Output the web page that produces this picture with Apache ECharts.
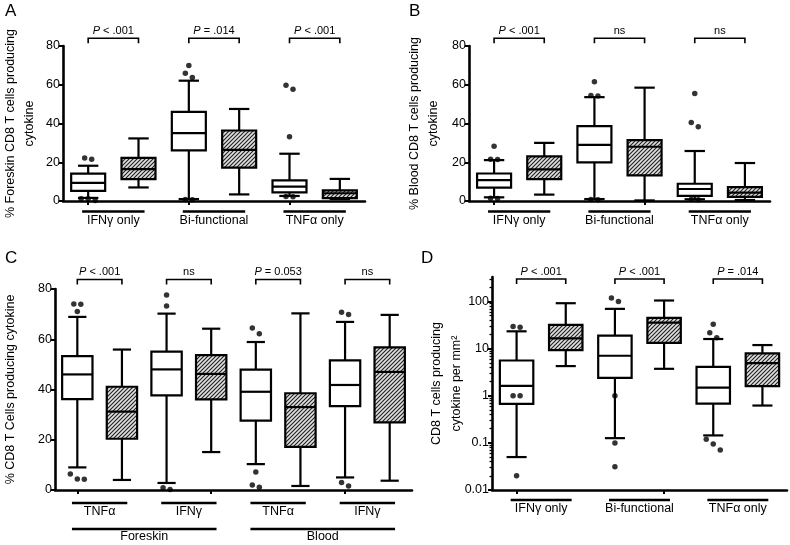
<!DOCTYPE html>
<html><head><meta charset="utf-8">
<script src="https://cdn.jsdelivr.net/npm/echarts@6/dist/echarts.min.js"></script>
<style>html,body{margin:0;padding:0;background:#fff}#c{width:790px;height:545px}</style>
</head><body><div id="c"></div>
<script>
// ================= DATA =================
const groupsABD = ['IFNγ only', 'Bi-functional', 'TNFα only'];
const subgroupsC = ['TNFα', 'IFNγ', 'TNFα', 'IFNγ'];
const tissuesC = ['Foreskin', 'Blood'];
const boxNamesABD = ['IFNγ only A', 'IFNγ only B', 'Bi-functional A', 'Bi-functional B', 'TNFα only A', 'TNFα only B'];
const boxNamesC = ['Foreskin TNFα A', 'Foreskin TNFα B', 'Foreskin IFNγ A', 'Foreskin IFNγ B', 'Blood TNFα A', 'Blood TNFα B', 'Blood IFNγ A', 'Blood IFNγ B'];

// box stats: [lower whisker, Q1, median, Q3, upper whisker]
const statsA = [[1.6, 5.2, 9.4, 14.1, 18.2], [7.0, 11.3, 16.5, 22.3, 32.3], [1.0, 26.1, 35.0, 46.0, 62.1], [3.4, 17.2, 26.4, 36.4, 47.5], [2.6, 4.5, 7.4, 10.6, 24.4], [1.0, 1.5, 4.0, 5.5, 11.4]];
const outliersA = [[22.2, 21.5, 1.2, 1.1, 0.2], [], [70.0, 65.9, 63.7, 0.8, 0.7], [], [59.7, 57.7, 33.1, 2.3, 2.2], []];

const statsB = [[1.9, 6.9, 10.8, 14.2, 21.1], [3.3, 11.3, 16.3, 23.0, 30.0], [1.0, 19.9, 29.0, 38.6, 53.6], [0.3, 13.2, 28.0, 31.4, 58.5], [0.9, 2.6, 6.2, 8.9, 25.8], [0.5, 2.1, 4.3, 7.2, 19.6]];
const outliersB = [[28.3, 21.6, 21.4, 1.4, 1.3], [], [61.5, 54.4, 54.2, 0.8, 0.7], [], [55.5, 40.5, 38.3, 0.8, 0.7], []];

const statsC = [[9.0, 36.2, 46.0, 53.3, 68.9], [4.0, 20.4, 31.2, 41.1, 55.9], [2.8, 37.7, 48.0, 55.1, 70.2], [15.1, 36.1, 46.2, 53.7, 64.2], [10.3, 27.6, 39.1, 47.9, 58.9], [1.6, 17.2, 33.0, 38.5, 70.3], [5.0, 33.4, 41.8, 51.6, 66.9], [3.7, 26.9, 47.0, 56.8, 69.7]];
const outliersC = [[74.0, 73.9, 71.0, 6.4, 4.4, 4.3], [], [77.6, 73.2, 0.9, 0.2], [], [64.5, 62.2, 7.2, 2.0, 1.1], [], [70.7, 69.9, 3.0, 1.6], []];

const statsD = [[0.05, 0.67, 1.62, 5.6, 23.3], [4.26, 9.3, 16.5, 31.8, 92], [0.126, 2.4, 7.06, 18.8, 69.8], [3.73, 13.2, 35.7, 44.9, 105], [0.144, 0.68, 1.49, 4.12, 16], [0.62, 1.6, 4.93, 7.9, 11.9]];
const outliersD = [[29.5, 28.5, 1.0, 1.0, 0.02], [], [118, 100, 1.0, 0.1, 0.031], [], [32.9, 21.8, 17.1, 0.12, 0.095, 0.071], []];

const pairsABD = [[0, 1], [2, 3], [4, 5]];
const pairsC = [[0, 1], [2, 3], [4, 5], [6, 7]];
const tissueSpansC = [[0, 3], [4, 7]];
const pTextA = ['{i|P} < .001', '{i|P} = .014', '{i|P} < .001'];
const pTextB = ['{i|P} < .001', 'ns', 'ns'];
const pTextC = ['{i|P} < .001', 'ns', '{i|P} = 0.053', 'ns'];
const pTextD = ['{i|P} < .001', '{i|P} < .001', '{i|P} = .014'];

const yTicksLin = [0, 20, 40, 60, 80];
const yTicksD = [0.01, 0.1, 1, 10, 100];
const yMinorD = [0.02,0.03,0.04,0.05,0.06,0.07,0.08,0.09,0.2,0.3,0.4,0.5,0.6,0.7,0.8,0.9,2,3,4,5,6,7,8,9,20,30,40,50,60,70,80,90,200,300];

const titleA = '% Foreskin CD8 T cells producing\ncytokine';
const titleB = '% Blood CD8 T cells producing\ncytokine';
const titleC = '% CD8 T Cells producing cytokine';
const titleD = 'CD8 T cells producing\ncytokine per mm²';

// ================= STYLE / HELPERS =================
const FONT = '"Liberation Sans", Arial, Helvetica, sans-serif';
const FS = 12.5;
const L10 = Math.log10;

const pc = document.createElement('canvas');
pc.width = 4; pc.height = 4;
const g = pc.getContext('2d');
g.fillStyle = '#e0e0e0'; g.fillRect(0, 0, 4, 4);
g.strokeStyle = '#222'; g.lineWidth = 1.15;
g.beginPath();
g.moveTo(-1, 5); g.lineTo(5, -1);
g.moveTo(-1, 1); g.lineTo(1, -1);
g.moveTo(3, 5); g.lineTo(5, 3);
g.stroke();
const hatch = { image: pc, repeat: 'repeat' };

function boxRender(params, api) {
  const i = api.value(0);
  const v = [1, 2, 3, 4, 5].map(k => api.value(k));
  const band = api.size([1, 0])[0];
  const bw = Math.min(band * 0.68, 34), cw = bw * 0.6;
  const cx = api.coord([i, v[2]])[0];
  const y = v.map(val => api.coord([i, val])[1]);
  const ls = { stroke: '#000', lineWidth: 2.2 };
  const hatched = i % 2 === 1;
  return { type: 'group', children: [
    { type: 'line', shape: { x1: cx, y1: y[0], x2: cx, y2: y[1] }, style: ls },
    { type: 'line', shape: { x1: cx, y1: y[3], x2: cx, y2: y[4] }, style: ls },
    { type: 'line', shape: { x1: cx - cw / 2, y1: y[0], x2: cx + cw / 2, y2: y[0] }, style: ls },
    { type: 'line', shape: { x1: cx - cw / 2, y1: y[4], x2: cx + cw / 2, y2: y[4] }, style: ls },
    { type: 'rect', shape: { x: cx - bw / 2, y: y[3], width: bw, height: y[1] - y[3] }, style: { fill: hatched ? hatch : '#fff', stroke: '#000', lineWidth: 2.2 } },
    { type: 'line', shape: { x1: cx - bw / 2, y1: y[2], x2: cx + bw / 2, y2: y[2] }, style: ls }
  ]};
}

function bracketRender(level, texts) {
  return function (params, api) {
    const a = api.value(0), b = api.value(1);
    const p1 = api.coord([a, level]), p2 = api.coord([b, level]);
    const y = p1[1];
    return { type: 'group', children: [
      { type: 'polyline', shape: { points: [[p1[0], y + 5], [p1[0], y], [p2[0], y], [p2[0], y + 5]] }, style: { stroke: '#000', lineWidth: 1.6, fill: null } },
      { type: 'text', style: { text: texts[params.dataIndex], x: (p1[0] + p2[0]) / 2, y: y - 7.5, align: 'center', verticalAlign: 'middle', fontSize: 11, fontFamily: FONT, fill: '#000',
        rich: { i: { fontStyle: 'italic', fontSize: 11, fontFamily: FONT, fill: '#000' } } } }
    ]};
  };
}

function spanRender(yMin, lineOff, textOff, texts) {
  return function (params, api) {
    const a = api.value(0), b = api.value(1);
    const band = api.size([1, 0])[0];
    const p1 = api.coord([a, yMin]), p2 = api.coord([b, yMin]);
    const y = p1[1] + lineOff;
    return { type: 'group', children: [
      { type: 'line', shape: { x1: p1[0] - band * 0.12, y1: y, x2: p2[0] + band * 0.12, y2: y }, style: { stroke: '#000', lineWidth: 2.6 } },
      { type: 'text', style: { text: texts[params.dataIndex], x: (p1[0] + p2[0]) / 2, y: p1[1] + textOff, align: 'center', verticalAlign: 'middle', fontSize: FS, fontFamily: FONT, fill: '#000' } }
    ]};
  };
}

// automatic side-by-side placement for outliers that would overlap
function outlierData(outs, range) {
  const res = [];
  const thr = range * 0.03;
  outs.forEach((list, i) => {
    const s = list.slice().sort((a, b) => b - a);
    let k = 0;
    while (k < s.length) {
      let j = k;
      while (j + 1 < s.length && s[j] - s[j + 1] < thr) j++;
      const n = j - k + 1;
      for (let m = k; m <= j; m++) {
        const dx = n > 1 ? ((m - k) - (n - 1) / 2) * 7 : 0;
        res.push({ value: [i, s[m]], symbolOffset: [dx, 0] });
      }
      k = j + 1;
    }
  });
  return res;
}

function boxSeries(stats, gi, tf) {
  return { type: 'custom', xAxisIndex: gi, yAxisIndex: gi, renderItem: boxRender, clip: false, z: 3,
    encode: { x: 0, y: [1, 2, 3, 4, 5] },
    data: stats.map((s, i) => [i].concat(s.map(tf))) };
}
function outlierSeries(outs, gi, tf, range) {
  return { type: 'scatter', xAxisIndex: gi, yAxisIndex: gi, symbol: 'circle', symbolSize: 5.5, z: 5, clip: false,
    itemStyle: { color: '#000' }, silent: true,
    data: outlierData(outs.map(l => l.map(tf)), range) };
}
function bracketSeries(pairs, texts, gi, level) {
  return { type: 'custom', xAxisIndex: gi, yAxisIndex: gi, clip: false, z: 4, renderItem: bracketRender(level, texts), data: pairs };
}
function spanSeries(spans, texts, gi, yMin, lineOff, textOff) {
  return { type: 'custom', xAxisIndex: gi, yAxisIndex: gi, clip: false, z: 4, renderItem: spanRender(yMin, lineOff, textOff, texts), data: spans };
}

const id = v => v;
const axLine = { show: true, lineStyle: { color: '#000', width: 2.6 } };
function xAx(gi, names) {
  return { type: 'category', gridIndex: gi, data: names, boundaryGap: true,
    axisLine: { show: true, onZero: false, lineStyle: { color: '#000', width: 2.6 } },
    axisTick: { show: true, alignWithLabel: true, length: 4, lineStyle: { color: '#000', width: 2 } },
    axisLabel: { show: false }, splitLine: { show: false } };
}
function yAx(gi, name, gap, extra) {
  return Object.assign({ type: 'value', gridIndex: gi, min: 0, max: 80, interval: 20,
    name: name, nameLocation: 'middle', nameRotate: 90, nameGap: gap, nameMoveOverlap: false,
    nameTextStyle: { fontSize: FS, fontFamily: FONT, color: '#000', lineHeight: 19, align: 'center' },
    axisLine: axLine,
    axisTick: { show: true, length: 4, lineStyle: { color: '#000', width: 2 } },
    axisLabel: { fontSize: FS, fontFamily: FONT, color: '#000', margin: 3 },
    splitLine: { show: false } }, extra || {});
}

const option = {
  animation: false,
  backgroundColor: '#fff',
  grid: [
    { left: 62, top: 46, width: 303, height: 155 },
    { left: 469, top: 46, width: 301, height: 155 },
    { left: 52, top: 289, width: 360, height: 201 },
    { left: 492, top: 277, width: 295, height: 213 }
  ],
  xAxis: [xAx(0, boxNamesABD), xAx(1, boxNamesABD), xAx(2, boxNamesC), xAx(3, boxNamesABD)],
  yAxis: [
    yAx(0, titleA, 24),
    yAx(1, titleB, 26),
    yAx(2, titleC, 35),
    yAx(3, titleD, 25, { min: L10(0.01), max: 2.52, interval: null,
      nameTextStyle: { fontSize: FS, fontFamily: FONT, color: '#000', lineHeight: 20, align: 'center' },
      axisTick: { show: true, length: 4, customValues: yTicksD.map(L10), lineStyle: { color: '#000', width: 2 } },
      axisLabel: { fontSize: FS, fontFamily: FONT, color: '#000', margin: 3, customValues: yTicksD.map(L10),
        formatter: v => String(+Math.pow(10, v).toPrecision(3)) } }),
    { type: 'value', gridIndex: 3, min: L10(0.01), max: 2.52, position: 'left',
      axisLine: { show: false }, axisLabel: { show: false }, splitLine: { show: false },
      axisTick: { show: true, length: 2.5, customValues: yMinorD.map(L10), lineStyle: { color: '#000', width: 1.3 } } }
  ],
  graphic: [
    { type: 'text', left: 5, top: 3, style: { text: 'A', fontSize: 17, fontFamily: FONT, fill: '#000' } },
    { type: 'text', left: 409, top: 3, style: { text: 'B', fontSize: 17, fontFamily: FONT, fill: '#000' } },
    { type: 'text', left: 5, top: 250, style: { text: 'C', fontSize: 17, fontFamily: FONT, fill: '#000' } },
    { type: 'text', left: 421, top: 250, style: { text: 'D', fontSize: 17, fontFamily: FONT, fill: '#000' } }
  ],
  series: [
    boxSeries(statsA, 0, id), outlierSeries(outliersA, 0, id, 80),
    bracketSeries(pairsABD, pTextA, 0, 84), spanSeries(pairsABD, groupsABD, 0, 0, 10.5, 19.5),
    boxSeries(statsB, 1, id), outlierSeries(outliersB, 1, id, 80),
    bracketSeries(pairsABD, pTextB, 1, 84), spanSeries(pairsABD, groupsABD, 1, 0, 10.5, 19.5),
    boxSeries(statsC, 2, id), outlierSeries(outliersC, 2, id, 80),
    bracketSeries(pairsC, pTextC, 2, 83.8), spanSeries(pairsC, subgroupsC, 2, 0, 13, 22),
    spanSeries(tissueSpansC, tissuesC, 2, 0, 39, 47),
    boxSeries(statsD, 3, L10), outlierSeries(outliersD, 3, L10, 4.52),
    bracketSeries(pairsABD, pTextD, 3, L10(300)), spanSeries(pairsABD, groupsABD, 3, L10(0.01), 10, 19)
  ]
};
const chart = echarts.init(document.getElementById('c'), null, { renderer: 'canvas' });
chart.setOption(option);
</script></body></html>
